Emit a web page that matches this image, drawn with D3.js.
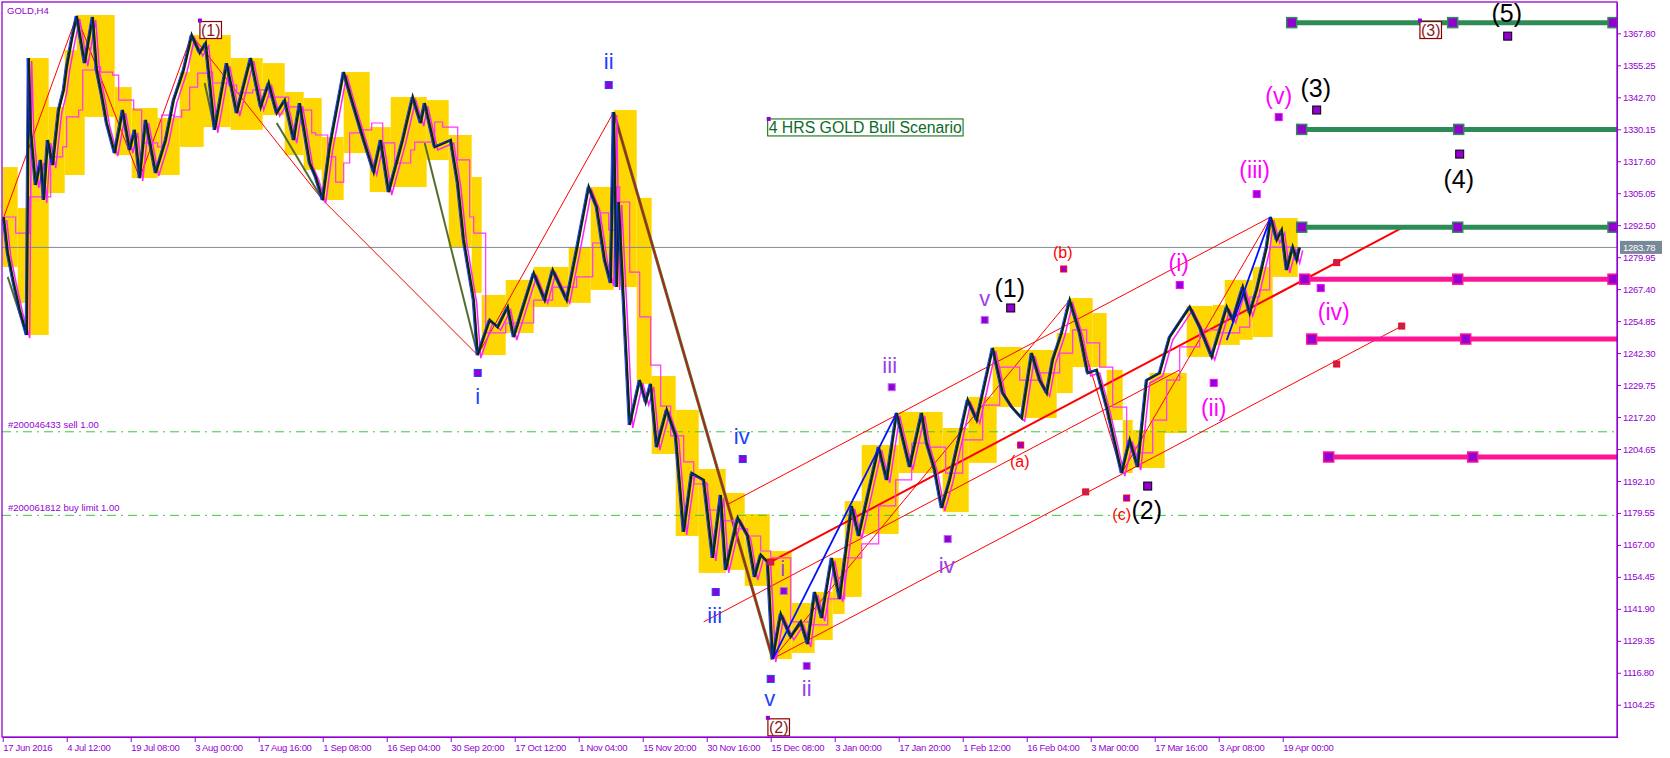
<!DOCTYPE html>
<html><head><meta charset="utf-8">
<script src="https://cdn.jsdelivr.net/npm/d3@7/dist/d3.min.js"></script>
<style>
body{margin:0;background:#fff}
svg{display:block}
text{font-family:"Liberation Sans",Arial,sans-serif}
</style>
</head><body>
<svg id="chart" width="1670" height="758"></svg>
<script>
// ---------------- DATA (bar index, price) ----------------
const symbol = "GOLD,H4";
const xTickLabels = ["17 Jun 2016","4 Jul 12:00","19 Jul 08:00","3 Aug 00:00","17 Aug 16:00","1 Sep 08:00","16 Sep 04:00","30 Sep 20:00","17 Oct 12:00","1 Nov 04:00","15 Nov 20:00","30 Nov 16:00","15 Dec 08:00","3 Jan 00:00","17 Jan 20:00","1 Feb 12:00","16 Feb 04:00","3 Mar 00:00","17 Mar 16:00","3 Apr 08:00","19 Apr 00:00"];
const xTickBars = [0,64,128,192,256,320,384,448,512,576,640,704,768,832,896,960,1024,1088,1152,1216,1280];
const yTickValues = [1104.25,1116.80,1129.35,1141.90,1154.45,1167.00,1179.55,1192.10,1204.65,1217.20,1229.75,1242.30,1254.85,1267.40,1279.95,1292.50,1305.05,1317.60,1330.15,1342.70,1355.25,1367.80];
const currentPrice = 1283.78;

const pricePath = [[1,1295.7],[5,1281.6],[11,1269.8],[17,1259.2],[24,1249.4],[26,1358.1],[28,1329.9],[33,1308.3],[38,1318.1],[41,1302.4],[45,1325.9],[50,1316.1],[56,1337.7],[61,1345.5],[64,1354.6],[69,1365.2],[74,1374.6],[82,1356.1],[90,1374.2],[94,1353.4],[99,1343.6],[104,1332.6],[112,1320.8],[120,1337.7],[127,1322.0],[132,1329.9],[137,1311.0],[143,1333.8],[153,1313.0],[163,1325.9],[171,1341.6],[181,1353.4],[189,1367.1],[197,1360.1],[203,1364.0],[212,1329.9],[224,1356.1],[234,1336.5],[248,1358.1],[258,1338.9],[266,1348.3],[274,1336.5],[282,1341.6],[291,1325.9],[297,1340.4],[307,1316.9],[313,1311.4],[320,1302.4],[327,1323.2],[341,1352.6],[349,1341.6],[361,1325.9],[371,1313.4],[378,1325.9],[386,1305.5],[400,1325.9],[410,1342.8],[418,1332.6],[422,1340.4],[432,1323.2],[448,1325.9],[455,1309.0],[461,1286.7],[471,1263.1],[475,1241.5],[487,1255.3],[495,1252.5],[505,1260.4],[511,1248.6],[531,1273.7],[542,1263.1],[550,1274.9],[564,1263.1],[574,1282.8],[586,1307.5],[594,1299.6],[602,1278.8],[608,1269.8],[611,1336.9],[614,1268.2],[616,1301.6],[621,1262.3],[627,1214.1],[637,1231.7],[643,1223.1],[648,1230.2],[654,1205.4],[664,1220.0],[673,1209.8],[681,1172.1],[689,1195.2],[701,1192.5],[710,1161.9],[718,1186.6],[723,1157.2],[735,1177.6],[745,1170.5],[752,1154.4],[758,1163.1],[765,1160.3],[770,1122.2],[778,1139.9],[788,1130.9],[798,1136.8],[805,1128.1],[812,1148.5],[819,1138.3],[829,1161.9],[837,1145.8],[849,1182.3],[856,1170.5],[876,1205.4],[884,1192.5],[894,1218.8],[907,1197.6],[919,1218.8],[924,1207.0],[932,1196.4],[939,1181.5],[947,1192.5],[965,1223.9],[974,1216.0],[990,1244.3],[1000,1226.6],[1009,1221.1],[1019,1216.8],[1029,1242.3],[1037,1231.7],[1044,1226.6],[1050,1239.6],[1059,1250.2],[1067,1263.1],[1077,1250.2],[1085,1234.5],[1094,1235.7],[1104,1221.1],[1119,1195.2],[1127,1208.2],[1135,1197.6],[1144,1231.7],[1157,1234.5],[1167,1248.6],[1187,1260.4],[1197,1252.5],[1209,1240.8],[1224,1260.4],[1230,1255.3],[1240,1268.2],[1247,1258.0],[1254,1267.1],[1264,1283.9],[1268,1295.7],[1274,1286.7],[1279,1290.6],[1284,1274.9],[1290,1283.9],[1294,1278.8],[1297,1283.78]];

const maLine = [[0,1295.7],[11,1295.7],[13,1289.4],[27,1303.6],[46,1303.6],[48,1319.3],[60,1323.2],[64,1335.0],[76,1337.7],[80,1353.4],[92,1354.6],[98,1352.6],[110,1351.4],[116,1341.6],[131,1337.7],[139,1324.8],[155,1323.2],[159,1335.7],[171,1335.0],[179,1337.7],[187,1346.7],[195,1352.2],[206,1352.6],[210,1348.3],[226,1347.5],[234,1344.4],[250,1345.6],[258,1345.6],[266,1342.8],[278,1342.8],[286,1338.9],[297,1337.7],[309,1328.7],[313,1327.9],[325,1319.3],[333,1309.4],[341,1316.9],[347,1328.7],[357,1329.9],[369,1332.6],[380,1324.8],[392,1316.9],[400,1316.9],[408,1322.0],[412,1325.1],[424,1325.1],[432,1333.0],[440,1331.0],[455,1318.1],[467,1295.7],[471,1289.4],[483,1250.2],[503,1254.1],[511,1254.1],[531,1263.1],[550,1268.2],[566,1268.2],[574,1272.2],[590,1285.5],[598,1297.3],[606,1290.6],[614,1307.5],[617,1301.6],[627,1274.1],[637,1256.5],[648,1237.6],[658,1221.5],[668,1209.8],[681,1199.6],[691,1190.9],[705,1180.7],[718,1176.4],[731,1173.3],[745,1170.5],[758,1164.6],[768,1161.9],[788,1136.8],[809,1135.6],[825,1145.8],[842,1161.9],[859,1167.4],[876,1182.3],[893,1192.5],[909,1207.0],[926,1205.4],[943,1195.2],[960,1208.2],[980,1221.9],[997,1236.8],[1017,1231.7],[1037,1234.5],[1057,1242.3],[1070,1251.4],[1084,1246.3],[1097,1236.8],[1110,1221.1],[1124,1205.4],[1137,1203.1],[1150,1216.0],[1164,1231.7],[1177,1244.7],[1197,1251.4],[1217,1250.2],[1237,1252.5],[1247,1264.3],[1257,1267.1],[1267,1283.9],[1280,1283.9],[1290,1282.8],[1297,1283.9]];

// envelope blocks: [fromBar, toBar, upper, lower]
const envelope = [[0,15,1315.3,1276.1],[15,25,1299.2,1262.0],[25,46,1358.1,1249.4],[46,62,1338.9,1305.1],[62,82,1361.2,1312.2],[74,112,1375.0,1335.0],[112,129,1346.7,1320.0],[129,155,1338.5,1311.0],[155,177,1334.6,1312.2],[177,201,1352.6,1323.2],[187,228,1367.1,1331.0],[228,260,1358.1,1329.9],[260,282,1356.1,1335.7],[282,301,1344.8,1320.0],[301,319,1342.4,1314.2],[319,341,1327.1,1302.4],[341,367,1352.6,1320.8],[367,388,1331.0,1305.5],[388,424,1342.8,1307.5],[424,446,1341.6,1318.1],[446,469,1327.9,1283.9],[469,479,1311.4,1265.9],[479,503,1265.1,1241.5],[503,531,1271.0,1250.2],[531,566,1276.1,1260.4],[566,588,1283.9,1262.0],[588,611,1307.5,1267.1],[611,634,1337.7,1268.2],[634,649,1303.2,1230.2],[649,673,1233.3,1202.7],[673,696,1220.0,1170.5],[696,723,1196.8,1156.0],[723,742,1187.4,1157.2],[742,767,1179.1,1150.9],[767,789,1164.6,1122.2],[789,812,1144.2,1124.6],[812,830,1148.5,1129.7],[830,842,1161.9,1139.9],[842,859,1184.2,1146.6],[859,896,1206.2,1171.3],[896,940,1219.2,1195.2],[940,966,1212.9,1179.9],[966,994,1225.1,1199.2],[990,1019,1244.7,1221.1],[1019,1054,1243.5,1216.8],[1054,1070,1250.2,1226.6],[1067,1090,1263.9,1236.8],[1090,1104,1258.0,1236.8],[1104,1120,1235.7,1216.0],[1120,1130,1216.0,1195.2],[1130,1162,1212.1,1197.2],[1147,1184,1234.5,1210.9],[1184,1210,1260.8,1240.8],[1210,1237,1261.2,1245.5],[1222,1250,1271.0,1247.5],[1250,1270,1276.1,1248.6],[1267,1295,1295.3,1272.2]];

const oliveSegments = [[[5,1272.2],[24,1249.4]],[[202,1348.3],[212,1329.9]],[[274,1332.6],[320,1302.4]],[[422,1324.8],[475,1241.5]]];
const redZigzag = [[0,1294.5],[74,1374.6],[137,1311.0],[189,1367.1],[320,1302.4],[475,1241.5],[611,1336.9]];
const bigDownLeg = [[611,1336.9],[770,1122.2]];
const redWaveLine = [[770,1122.2],[1067,1263.1],[1119,1195.2],[1268,1295.7]];
const blueZigzag = [[[770,1122.2],[894,1218.8]],[[1224,1247.4],[1268,1295.7]]];
const channelUpper = [[724,1182.7],[1268,1295.7]];
const channelMid = [[768,1160.3],[1403,1292.2]];
const channelInner = [[701,1136.8],[1177,1235.7]];
const channelLower = [[768,1121.9],[1401,1253.3]];
const channelMarks = [[768,1160.3],[1334,1277.8],[1083,1187.8],[1334,1238.0],[1399,1252.9]];

const orderLevels = [1211.4, 1178.6];
const orderTexts = ["#200046433 sell 1.00", "#200061812 buy limit 1.00"];

const targetLevels = [1372.0, 1330.1, 1291.7, 1271.3, 1247.8, 1201.5];
const targetStartBar = [1289, 1299, 1299, 1302, 1309, 1326];
const targetMidBar = [1450, 1456, 1455, 1455, 1463, 1470];
const targetEndMark = [true, false, true, true, false, false];

// labels: [text, bar, price of text, bar of marker, price of marker]
const blueWaves = [["i",475,1225.1,475,1234.5],["ii",606,1356.9,606,1347.5],["iii",712,1139.1,713,1148.5],["iv",739,1209.4,740,1200.7],["v",767,1106.6,768,1114.4]];
const violetWaves = [["i",780,1157.6,781,1148.9],["ii",804,1110.5,804,1119.5],["iii",887,1237.6,889,1228.9],["iv",944,1159.1,945,1169.3],["v",982,1263.9,982,1255.3]];
const blackWaves = [["(1)",1007,1267.8,1008,1260.0],["(2)",1144,1180.7,1145,1190.1],["(3)",1313,1346.3,1314,1337.7],["(4)",1456,1310.6,1457,1320.4],["(5)",1504,1375.8,1505,1366.7]];
const redWaves = [["(a)",1017,1199.9,1018,1206.2],["(b)",1060,1281.6,1061,1275.3],["(c)",1119,1179.0,1124,1185.4]];
const magentaWaves = [["(i)",1176,1277.7,1177,1269.0],["(ii)",1211,1220.8,1211,1230.6],["(iii)",1252,1314.2,1254,1304.7],["(iv)",1331,1258.4,1318,1267.8],["(v)",1276,1343.2,1276,1334.9]];
const boxedWaves = [["(1)",208,1369.1],["(2)",776,1095.4],["(3)",1428,1369.1]];
const scenarioText = "4 HRS GOLD Bull Scenario";
const scenarioAnchor = [765, 1333.1];

// ---------------- DRAW ----------------
const svg = d3.select("#chart");
const L = 2, R = 1617, T = 2, B = 737;
const PURPLE = "#9400d3";
const x = d3.scaleLinear().domain([0, 1615]).range([2.7, 1617.7]);
const y = d3.scaleLinear().domain([1091.6, 1380.1]).range([B, T]);
const line = d3.line().x(d => x(d[0])).y(d => y(d[1]));

svg.append("rect").attr("width", 1670).attr("height", 758).attr("fill", "#fff");
svg.append("defs").append("clipPath").attr("id", "clip")
  .append("rect").attr("x", L).attr("y", T).attr("width", R - L).attr("height", B - T);
const g = svg.append("g").attr("clip-path", "url(#clip)");

// envelope
g.append("g").selectAll("rect").data(envelope).join("rect")
  .attr("x", d => x(d[0])).attr("width", d => x(d[1]) - x(d[0]))
  .attr("y", d => y(d[2])).attr("height", d => y(d[3]) - y(d[2]))
  .attr("fill", "#ffd700");

// order lines
orderLevels.forEach((v, k) => {
  g.append("line").attr("x1", L).attr("x2", R).attr("y1", y(v)).attr("y2", y(v))
    .attr("stroke", "#3cc83c").attr("stroke-width", 1).attr("stroke-dasharray", "9,5,2,5");
  svg.append("text").attr("x", 8).attr("y", y(v) - 4).text(orderTexts[k])
    .attr("font-size", 9.5).attr("fill", PURPLE);
});

// current price line
g.append("line").attr("x1", L).attr("x2", R).attr("y1", y(currentPrice)).attr("y2", y(currentPrice))
  .attr("stroke", "#7b8b93").attr("stroke-width", 1);

// red zigzag & channels
g.append("path").datum(redZigzag).attr("d", line).attr("fill", "none").attr("stroke", "#ff0000").attr("stroke-width", 1);
oliveSegments.forEach(s => g.append("path").datum(s).attr("d", line).attr("fill", "none").attr("stroke", "#556b2f").attr("stroke-width", 2));
g.append("path").datum(bigDownLeg).attr("d", line).attr("fill", "none").attr("stroke", "#556b2f").attr("stroke-width", 3);
g.append("path").datum(bigDownLeg).attr("d", line).attr("fill", "none").attr("stroke", "#d01010").attr("stroke-width", 1.2);
g.append("path").datum(redWaveLine).attr("d", line).attr("fill", "none").attr("stroke", "#ff0000").attr("stroke-width", 1);
[channelUpper, channelInner, channelLower].forEach(c =>
  g.append("path").datum(c).attr("d", line).attr("fill", "none").attr("stroke", "#ff0000").attr("stroke-width", 1));
g.append("path").datum(channelMid).attr("d", line).attr("fill", "none").attr("stroke", "#ff0000").attr("stroke-width", 2);

// MA
g.append("path").datum(maLine).attr("d", d3.line().curve(d3.curveStepAfter).x(d => x(d[0])).y(d => y(d[1])))
  .attr("fill", "none").attr("stroke", "#ff33ff").attr("stroke-width", 1.2);

// price
g.append("path").datum(pricePath).attr("d", line).attr("fill", "none")
  .attr("stroke", "#ff22ff").attr("stroke-width", 1.5).attr("transform", "translate(3,3)");
g.append("path").datum(pricePath).attr("d", line).attr("fill", "none")
  .attr("stroke", "#0b2b0b").attr("stroke-width", 2.6).attr("stroke-linejoin", "miter");
g.append("path").datum(pricePath).attr("d", line).attr("fill", "none")
  .attr("stroke", "#1030ff").attr("stroke-width", 0.9).attr("transform", "translate(-1.5,0)");

// blue zigzag
blueZigzag.forEach(s => g.append("path").datum(s).attr("d", line).attr("fill", "none").attr("stroke", "#0010ff").attr("stroke-width", 1.8));

// channel marks
g.append("g").selectAll("rect").data(channelMarks).join("rect")
  .attr("x", d => x(d[0]) - 3).attr("y", d => y(d[1]) - 3).attr("width", 6).attr("height", 6)
  .attr("fill", "#c02060").attr("stroke", "#ff0000").attr("stroke-width", 1);

// target levels
targetLevels.forEach((v, k) => {
  const col = k < 3 ? "#2e8b57" : "#ff1493";
  g.append("line").attr("x1", x(targetStartBar[k])).attr("x2", R).attr("y1", y(v)).attr("y2", y(v))
    .attr("stroke", col).attr("stroke-width", 5);
  const marks = [targetStartBar[k], targetMidBar[k]];
  marks.forEach(b => g.append("rect").attr("x", x(b) - 5).attr("y", y(v) - 5).attr("width", 10).attr("height", 10)
    .attr("fill", PURPLE).attr("stroke", col).attr("stroke-width", 1.5));
  if (targetEndMark[k]) g.append("rect").attr("x", R - 9).attr("y", y(v) - 5).attr("width", 9).attr("height", 10)
    .attr("fill", PURPLE).attr("stroke", col).attr("stroke-width", 1.5);
});

// wave labels
function waves(list, color, size, sq, sqStroke) {
  list.forEach(d => {
    g.append("rect").attr("x", x(d[3]) - sq / 2).attr("y", y(d[4]) - sq / 2).attr("width", sq).attr("height", sq)
      .attr("fill", PURPLE).attr("stroke", sqStroke).attr("stroke-width", 1);
    g.append("text").attr("x", x(d[1])).attr("y", y(d[2])).text(d[0])
      .attr("text-anchor", "middle").attr("dominant-baseline", "central")
      .attr("font-size", size).attr("fill", color);
  });
}
waves(blueWaves, "#1f3fff", 22, 7, "#2040ff");
waves(violetWaves, "#9a3fe6", 22, 7, "#b070ff");
waves(blackWaves, "#000", 25, 8, "#000");
waves(redWaves, "#ff0000", 16, 6, "#ff0000");
waves(magentaWaves, "#ff00ff", 23, 7, "#ff00ff");

boxedWaves.forEach(d => {
  const t = g.append("text").attr("x", x(d[1])).attr("y", y(d[2])).text(d[0])
    .attr("text-anchor", "middle").attr("dominant-baseline", "central")
    .attr("font-size", 16).attr("fill", "#8b1a1a");
  const bb = t.node().getBBox();
  g.insert("rect", () => t.node()).attr("x", bb.x - 1).attr("y", bb.y).attr("width", bb.width + 2).attr("height", bb.height)
    .attr("fill", "#fff").attr("stroke", "#8b0000").attr("stroke-width", 1.2);
  g.append("rect").attr("x", bb.x - 3).attr("y", bb.y - 3).attr("width", 4).attr("height", 4).attr("fill", PURPLE);
});

// scenario text
{
  const t = g.append("text").attr("x", x(scenarioAnchor[0]) + 1).attr("y", y(scenarioAnchor[1]))
    .attr("dominant-baseline", "hanging").text(scenarioText)
    .attr("font-size", 15.8).attr("fill", "#0d6b2a");
  const bb = t.node().getBBox();
  g.insert("rect", () => t.node()).attr("x", bb.x - 1).attr("y", bb.y).attr("width", bb.width + 2).attr("height", bb.height)
    .attr("fill", "none").attr("stroke", "#006400").attr("stroke-width", 1);
  g.append("rect").attr("x", bb.x - 2).attr("y", bb.y - 2).attr("width", 4).attr("height", 4).attr("fill", PURPLE);
}

// frame
svg.append("rect").attr("x", L).attr("y", T).attr("width", R - L).attr("height", B - T)
  .attr("fill", "none").attr("stroke", PURPLE).attr("stroke-width", 1.3);
svg.append("text").attr("x", 7).attr("y", 14).text(symbol).attr("font-size", 9.5).attr("fill", PURPLE);

// axes
const yAxis = svg.append("g").attr("transform", `translate(${R},0)`)
  .call(d3.axisRight(y).tickValues(yTickValues).tickFormat(d3.format(".2f")).tickSize(4).tickSizeOuter(0).tickPadding(2));
const xAxis = svg.append("g").attr("transform", `translate(0,${B})`)
  .call(d3.axisBottom(x).tickValues(xTickBars).tickFormat((d, i) => xTickLabels[i]).tickSize(5).tickSizeOuter(0).tickPadding(2));
[yAxis, xAxis].forEach(a => {
  a.select(".domain").attr("stroke", PURPLE);
  a.selectAll(".tick line").attr("stroke", PURPLE);
  a.selectAll(".tick text").attr("fill", PURPLE).attr("font-size", 9.5).attr("letter-spacing", "-0.3px")
    .attr("font-family", '"Liberation Sans",Arial,sans-serif');
});
xAxis.selectAll(".tick text").attr("text-anchor", "start").attr("x", 0);

// price tag
{
  const py = y(currentPrice);
  svg.append("rect").attr("x", 1620).attr("y", py - 6.5).attr("width", 42).attr("height", 13).attr("fill", "#778899");
  svg.append("text").attr("x", 1623).attr("y", py).attr("dominant-baseline", "central").text(currentPrice.toFixed(2))
    .attr("font-size", 9.5).attr("letter-spacing", "-0.3px").attr("fill", "#fff");
}
</script>
</body></html>
